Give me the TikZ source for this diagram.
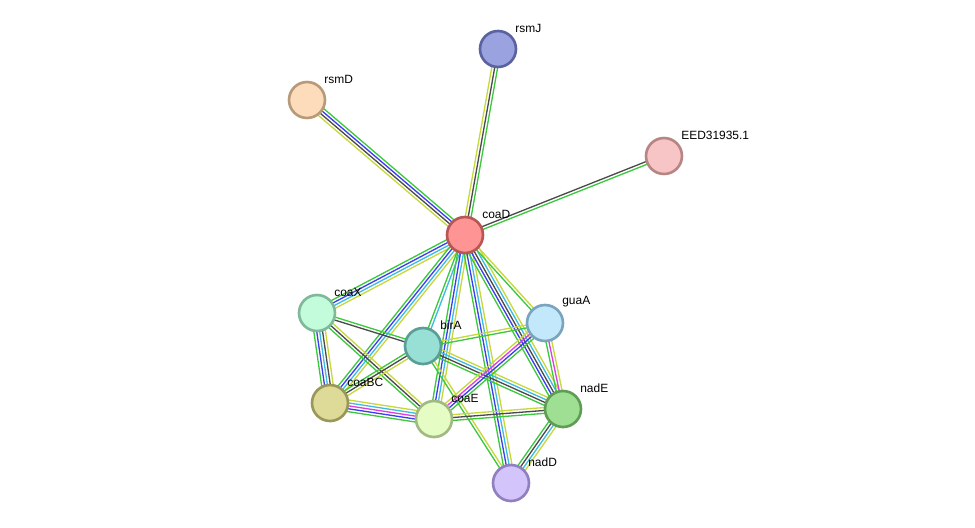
\documentclass[tikz,border=0pt]{standalone}
\usepackage{fontspec}
\setmainfont{Liberation Sans}
\usepackage{tikz}
\usetikzlibrary{calc,backgrounds}
\usepackage{xcolor}
\definecolor{lgreen}{HTML}{3CC83C}
\definecolor{lblue}{HTML}{3C3CF0}
\definecolor{lblack}{HTML}{4A4A4A}
\definecolor{lyellow}{HTML}{C6D83C}
\definecolor{lcyan}{HTML}{3CBCE0}
\definecolor{lmagenta}{HTML}{E03CE0}
\newcommand{\protnode}[5]{%
  \definecolor{#1fill}{HTML}{#4}\definecolor{#1ring}{HTML}{#5}%
  \node[prot, fill=#1fill, draw=#1ring] (#1) at (#2) {};
  \node[plabel] (#1-lab) at ($(#1)+(17,-21)$) {#3};
}
% multi-strand link between two proteins
\newcommand{\plink}[3]{%
  \foreach \c [count=\i] in {#3} {\xdef\nstrand{\i}}
  \foreach \c [count=\i] in {#3} {
    \pgfmathsetmacro{\off}{(\i-(\nstrand+1)/2)*0.058}
    \draw[strand, draw=\c] ($(#1)!\off cm!90:(#2)$) -- ($(#2)!\off cm!-90:(#1)$);
  }
}

\begin{document}
\begin{tikzpicture}[
  x=0.02cm, y=-0.02cm,
  every node/.style={font=\fontsize{6.8}{8}\selectfont},
  prot/.style={circle, minimum size=0.72cm, inner sep=0pt, line width=1.5pt},
  plabel/.style={anchor=west, inner sep=0pt},
  strand/.style={line width=0.75pt}
]
  \useasboundingbox (0,0) rectangle (975,528);

  % proteins
  \protnode{coaD}{465,235}{coaD}{FF9494}{B85656}
  \protnode{rsmJ}{498,49}{rsmJ}{9AA3E0}{5A63A0}
  \protnode{rsmD}{307,100}{rsmD}{FDDCBC}{B89A78}
  \protnode{eed}{664,156}{EED31935.1}{F7C5C5}{B88585}
  \protnode{coaX}{317,313}{coaX}{C3FCDB}{80B89A}
  \protnode{guaA}{545,323}{guaA}{C3E8FC}{7AA4BE}
  \protnode{birA}{423,346}{birA}{98DFD6}{5A9E96}
  \protnode{coaBC}{330,403}{coaBC}{DEDB98}{9A9858}
  \protnode{coaE}{434,419}{coaE}{E5FCC4}{A1BA82}
  \protnode{nadE}{563,409}{nadE}{9EDF93}{5E9E54}
  \protnode{nadD}{511,483}{nadD}{D3C4FB}{9180C0}

  % links, behind the proteins
  \begin{scope}[on background layer]
    \plink{coaD}{rsmD}{lgreen,lblue,lblack,lyellow}
    \plink{coaD}{rsmJ}{lgreen,lblack,lyellow}
    \plink{coaD}{eed}{lgreen,lblack}
    \plink{coaD}{coaX}{lgreen,lblue,lcyan,lyellow}
    \plink{coaD}{coaBC}{lgreen,lblue,lcyan,lyellow}
    \plink{coaD}{birA}{lgreen,lcyan}
    \plink{coaD}{coaE}{lgreen,lblue,lcyan,lyellow}
    \plink{coaD}{nadD}{lgreen,lblue,lcyan,lyellow}
    \plink{coaD}{nadE}{lgreen,lblue,lblack,lcyan,lyellow}
    \plink{coaD}{guaA}{lgreen,lyellow}
    \plink{coaX}{coaBC}{lgreen,lblue,lcyan,lblack,lyellow}
    \plink{coaX}{birA}{lblack,lgreen}
    \plink{coaX}{coaE}{lgreen,lblack,lyellow}
    \plink{birA}{coaBC}{lgreen,lblack,lyellow}
    \plink{birA}{guaA}{lgreen,lyellow}
    \plink{birA}{nadE}{lgreen,lblack,lcyan,lyellow}
    \plink{birA}{nadD}{lgreen,lyellow}
    \plink{coaBC}{coaE}{lgreen,lblue,lmagenta,lcyan,lyellow}
    \plink{coaE}{nadE}{lgreen,lblack,lyellow}
    \plink{coaE}{guaA}{lgreen,lblue,lmagenta,lyellow}
    \plink{guaA}{nadE}{lgreen,lmagenta,lyellow}
    \plink{nadE}{nadD}{lgreen,lblack,lcyan,lyellow}
  \end{scope}
\end{tikzpicture}
\end{document}
